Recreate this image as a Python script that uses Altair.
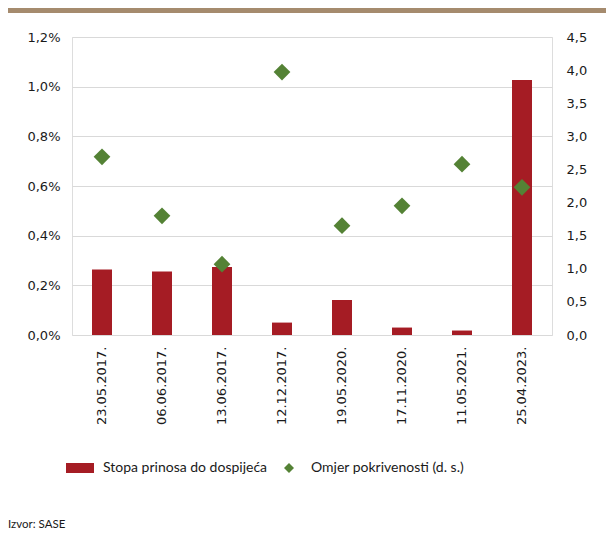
import altair as alt
import pandas as pd

dates = ["23.05.2017.", "06.06.2017.", "13.06.2017.", "12.12.2017.",
         "19.05.2020.", "17.11.2020.", "11.05.2021.", "25.04.2023."]
yield_pct = [0.264, 0.256, 0.274, 0.050, 0.141, 0.030, 0.018, 1.027]
coverage = [2.69, 1.80, 1.07, 3.97, 1.65, 1.95, 2.58, 2.23]
series_names = ["Stopa prinosa do dospijeća", "Omjer pokrivenosti (d. s.)"]
left_ticks = [0, 0.002, 0.004, 0.006, 0.008, 0.010, 0.012]
right_ticks = [0, 0.5, 1.0, 1.5, 2.0, 2.5, 3.0, 3.5, 4.0, 4.5]
source = ["Izvor: SASE"]

RED = "#A51C24"
GREEN = "#548235"
TICK_FONT = "DejaVu Sans"
LEG_FONT = "Lato"

df = pd.DataFrame({
    "date": dates,
    "yield": [v / 100 for v in yield_pct],
    "coverage": coverage,
    "s1": series_names[0],
    "s2": series_names[1],
})

x_enc = alt.X("date:N", sort=dates,
              scale=alt.Scale(paddingInner=2 / 3, paddingOuter=1 / 3),
              axis=alt.Axis(title=None, labelAngle=-90, ticks=False, domain=False,
                            labelPadding=11, labelFont=TICK_FONT, labelFontSize=13,
                            labelColor="#1a1a1a"))

bars = alt.Chart(df).mark_bar(color=RED).encode(
    x=x_enc,
    y=alt.Y("yield:Q", scale=alt.Scale(domain=[0, 0.012], nice=False),
            axis=alt.Axis(title=None, values=left_ticks, grid=True, gridColor="#D9D9D9",
                          domain=False, ticks=False, labelPadding=12,
                          labelFont=TICK_FONT, labelFontSize=13, labelColor="#1a1a1a",
                          labelExpr="replace(format(datum.value, '.1%'), '.', ',')")),
    color=alt.Color("s1:N", scale=alt.Scale(range=[RED]),
                    legend=alt.Legend(title=None, orient="none", legendX=1, legendY=424,
                                      padding=0, symbolType="M-2.8,-1H2.8V1H-2.8Z",
                                      symbolSize=100, symbolStrokeWidth=0, labelOffset=16,
                                      labelLimit=0,
                                      labelFont=LEG_FONT, labelFontSize=14, labelColor="#1a1a1a")),
)

points = alt.Chart(df).mark_point(shape="diamond", filled=True, size=280, opacity=1).encode(
    x=x_enc,
    y=alt.Y("coverage:Q", scale=alt.Scale(domain=[0, 4.5], nice=False),
            axis=alt.Axis(title=None, orient="right", values=right_ticks, grid=False,
                          domain=False, ticks=False, labelPadding=14,
                          labelFont=TICK_FONT, labelFontSize=13, labelColor="#1a1a1a",
                          labelExpr="replace(format(datum.value, '.1f'), '.', ',')")),
    color=alt.Color("s2:N", scale=alt.Scale(range=[GREEN]),
                    legend=alt.Legend(title=None, orient="none", legendX=210, legendY=424,
                                      padding=0, symbolType="diamond", symbolSize=100,
                                      labelOffset=15, labelLimit=0,
                                      labelFont=LEG_FONT, labelFontSize=14, labelColor="#1a1a1a")),
)

banner = alt.Chart(pd.DataFrame({"b": [1]})).mark_rect(color="#A58B6E").encode(
    x=alt.value(-72), x2=alt.value(560), y=alt.value(-29), y2=alt.value(-24)
)

src = alt.Chart(pd.DataFrame({"t": source})).mark_text(
    align="left", baseline="alphabetic", font=LEG_FONT, fontSize=11.5, color="#1a1a1a"
).encode(x=alt.value(-64), y=alt.value(491), text="t:N")

chart = alt.layer(bars, points, banner, src).resolve_scale(
    y="independent", color="independent"
).properties(
    width=480, height=298, autosize=alt.AutoSizeParams(type="none"),
    padding={"left": 64, "top": 29, "right": 54, "bottom": 195},
).configure_view(stroke="black", strokeWidth=1).configure(background="white")

chart.save("out.html", embed_options={"renderer": "svg", "actions": False})
